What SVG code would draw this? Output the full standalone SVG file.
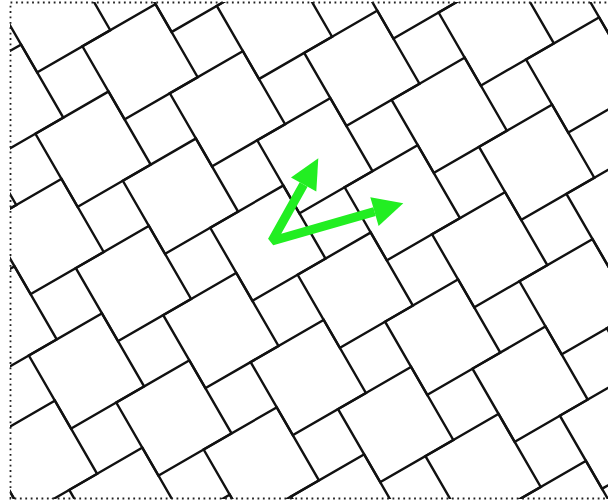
<svg xmlns="http://www.w3.org/2000/svg" width="608" height="500" viewBox="0 0 608 500">
<style>
.edge{fill:none;stroke:#111;stroke-width:2.4}
.frame{fill:none;stroke:#222;stroke-width:1.8;stroke-dasharray:1.8 3.6}
.shaft{fill:none;stroke:#22ee22;stroke-width:9;stroke-linejoin:bevel}
.head{fill:#22ee22}
</style>
<defs>
<clipPath id="clip"><rect x="10" y="2" width="600" height="497"/></clipPath>
<rect id="sq" class="edge" x="0" y="-84.4" width="84.4" height="84.4"/>
<g id="row">
<use href="#sq" transform="translate(-422,261)"/>
<use href="#sq" transform="translate(-337.6,208.8)"/>
<use href="#sq" transform="translate(-253.2,156.6)"/>
<use href="#sq" transform="translate(-168.8,104.4)"/>
<use href="#sq" transform="translate(-84.4,52.2)"/>
<use href="#sq" transform="translate(0,0)"/>
<use href="#sq" transform="translate(84.4,-52.2)"/>
<use href="#sq" transform="translate(168.8,-104.4)"/>
<use href="#sq" transform="translate(253.2,-156.6)"/>
<use href="#sq" transform="translate(337.6,-208.8)"/>
</g>
</defs>
<rect width="608" height="500" fill="#fff"/>
<g id="tiling" clip-path="url(#clip)">
<g transform="translate(124.6,119.4) rotate(-30)">
<use href="#row" transform="translate(-104.4,-168.8)"/>
<use href="#row" transform="translate(-52.2,-84.4)"/>
<use href="#row" transform="translate(0,0)"/>
<use href="#row" transform="translate(52.2,84.4)"/>
<use href="#row" transform="translate(104.4,168.8)"/>
<use href="#row" transform="translate(156.6,253.2)"/>
<use href="#row" transform="translate(208.8,337.6)"/>
<use href="#row" transform="translate(261,422)"/>
<use href="#row" transform="translate(313.2,506.4)"/>
<use href="#row" transform="translate(365.4,590.8)"/>
</g>
</g>
<rect id="border" class="frame" x="10.5" y="2.5" width="600" height="496"/>
<g id="arrows">
<path class="shaft" d="M303.6,184.5 L272,241 L374.5,211.6"/>
<polygon class="head" points="318.3,158.3 316.3,191.6 291.0,177.4"/>
<polygon class="head" points="403.3,203.3 378.6,226.0 370.3,197.2"/>
</g>
</svg>
